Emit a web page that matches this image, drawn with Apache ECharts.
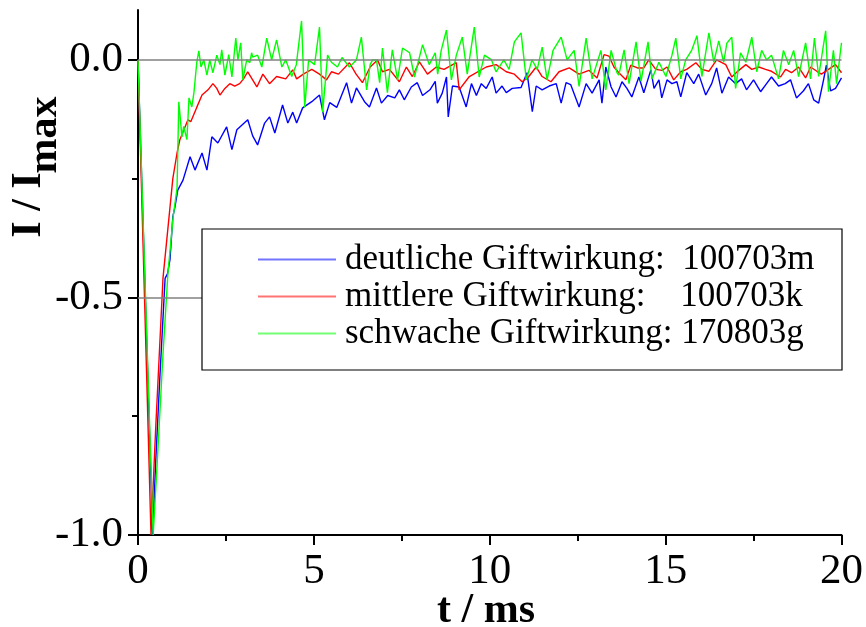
<!DOCTYPE html>
<html>
<head>
<meta charset="utf-8">
<script src="https://cdn.jsdelivr.net/npm/echarts@6/dist/echarts.min.js"></script>
<style>
  html, body { margin: 0; padding: 0; background: #fff; }
  #main { width: 866px; height: 627px; }
</style>
</head>
<body>
<div id="main"></div>
<script>
// t / ms, I / Imax
var blueData = [[0,0],[0.42,-1.0],[0.5,-0.85],[0.62,-0.67],[0.77,-0.46],[0.84,-0.45],[0.91,-0.42],[0.99,-0.33],[1.05,-0.31],[1.13,-0.274],[1.28,-0.253],[1.48,-0.204],[1.62,-0.232],[1.82,-0.196],[1.96,-0.232],[2.10,-0.162],[2.27,-0.175],[2.52,-0.141],[2.67,-0.189],[2.81,-0.147],[3.12,-0.126],[3.26,-0.16],[3.40,-0.179],[3.60,-0.133],[3.74,-0.120],[3.89,-0.154],[4.11,-0.095],[4.26,-0.133],[4.40,-0.11],[4.51,-0.133],[4.68,-0.101],[4.94,-0.088],[5.16,-0.074],[5.30,-0.126],[5.45,-0.09],[5.65,-0.10],[5.93,-0.048],[6.07,-0.091],[6.21,-0.059],[6.44,-0.088],[6.58,-0.099],[6.78,-0.059],[6.92,-0.091],[7.1,-0.075],[7.3,-0.08],[7.43,-0.063],[7.57,-0.084],[7.77,-0.057],[7.94,-0.048],[8.09,-0.075],[8.3,-0.063],[8.45,-0.045],[8.51,-0.091],[8.65,-0.07],[8.77,-0.036],[8.82,-0.12],[8.94,-0.055],[9.13,-0.057],[9.33,-0.099],[9.48,-0.05],[9.62,-0.075],[9.76,-0.05],[9.90,-0.06],[10.07,-0.036],[10.18,-0.07],[10.35,-0.055],[10.47,-0.069],[10.64,-0.06],[10.89,-0.058],[11.06,-0.027],[11.21,-0.109],[11.32,-0.055],[11.49,-0.063],[11.69,-0.055],[11.89,-0.05],[12.03,-0.091],[12.17,-0.048],[12.30,-0.052],[12.54,-0.099],[12.74,-0.05],[12.91,-0.07],[13.11,-0.042],[13.19,-0.091],[13.30,-0.015],[13.45,-0.057],[13.59,-0.078],[13.76,-0.046],[13.9,-0.06],[14.04,-0.078],[14.24,-0.036],[14.38,-0.069],[14.58,-0.021],[14.67,-0.06],[14.81,-0.042],[14.89,-0.080],[15.04,-0.042],[15.18,-0.05],[15.32,-0.046],[15.43,-0.078],[15.60,-0.027],[15.80,-0.05],[15.94,-0.03],[16.14,-0.074],[16.31,-0.05],[16.45,-0.017],[16.60,-0.07],[16.79,-0.036],[16.99,-0.05],[17.16,-0.04],[17.30,-0.063],[17.50,-0.042],[17.70,-0.067],[17.87,-0.05],[18.01,-0.036],[18.21,-0.055],[18.40,-0.05],[18.55,-0.042],[18.72,-0.080],[18.92,-0.065],[19.06,-0.05],[19.21,-0.084],[19.35,-0.091],[19.49,-0.042],[19.57,-0.011],[19.69,-0.065],[19.83,-0.06],[20.0,-0.038]];

var redData = [[0,0],[0.37,-1.0],[0.5,-0.78],[0.71,-0.46],[0.99,-0.25],[1.11,-0.196],[1.19,-0.168],[1.42,-0.126],[1.5,-0.13],[1.67,-0.10],[1.82,-0.074],[1.99,-0.063],[2.13,-0.05],[2.24,-0.06],[2.33,-0.074],[2.47,-0.06],[2.61,-0.05],[2.75,-0.055],[2.89,-0.05],[3.0,-0.04],[3.12,-0.025],[3.38,-0.057],[3.55,-0.03],[3.74,-0.05],[3.94,-0.035],[4.2,-0.04],[4.40,-0.021],[4.51,-0.04],[4.7,-0.03],[4.94,-0.02],[5.16,-0.03],[5.36,-0.042],[5.5,-0.025],[5.7,-0.03],[6.01,-0.006],[6.2,-0.03],[6.38,-0.048],[6.6,-0.015],[6.81,0.0],[6.95,-0.025],[7.15,-0.02],[7.43,-0.046],[7.63,-0.015],[7.80,-0.035],[8.0,-0.004],[8.23,-0.03],[8.48,-0.015],[8.7,-0.02],[9.05,-0.006],[9.13,-0.063],[9.42,-0.035],[9.9,-0.015],[10.18,-0.01],[10.47,-0.025],[10.7,-0.03],[10.92,-0.046],[11.1,-0.036],[11.32,-0.015],[11.49,-0.035],[11.74,-0.046],[11.97,-0.025],[12.26,-0.017],[12.54,-0.03],[12.82,-0.022],[13.05,-0.038],[13.25,0.011],[13.39,0.008],[13.53,-0.015],[13.67,-0.027],[13.87,-0.042],[14.01,-0.011],[14.2,-0.017],[14.38,-0.017],[14.52,0.0],[14.72,-0.02],[14.9,-0.022],[15.04,-0.015],[15.23,-0.042],[15.43,-0.025],[15.60,-0.02],[15.86,-0.006],[16.03,-0.02],[16.23,-0.024],[16.45,0.0],[16.71,-0.01],[16.88,-0.036],[17.08,-0.022],[17.28,-0.01],[17.45,-0.02],[17.65,-0.015],[17.84,-0.02],[18.01,-0.024],[18.27,-0.036],[18.41,-0.02],[18.58,-0.027],[18.78,-0.015],[18.98,-0.038],[19.12,-0.015],[19.3,-0.024],[19.43,-0.03],[19.63,-0.02],[19.83,-0.01],[20.0,-0.027]];

var greenData = [[0,0],[0.43,-1.0],[0.54,-0.857],[0.57,-0.86],[0.71,-0.62],[0.85,-0.45],[1.0,-0.33],[1.11,-0.27],[1.16,-0.088],[1.25,-0.162],[1.3,-0.14],[1.39,-0.168],[1.45,-0.08],[1.53,-0.099],[1.59,-0.069],[1.67,-0.006],[1.73,0.019],[1.79,-0.015],[1.87,0.0],[1.96,-0.032],[2.04,0.0],[2.13,-0.027],[2.24,0.01],[2.33,-0.01],[2.38,0.021],[2.47,-0.032],[2.58,0.011],[2.67,-0.036],[2.78,0.046],[2.84,0.0],[2.92,0.036],[2.98,-0.042],[3.09,0.0],[3.18,-0.006],[3.23,0.015],[3.26,0.006],[3.40,0.01],[3.52,-0.015],[3.66,0.046],[3.80,0.0],[3.94,0.042],[4.09,-0.015],[4.2,0.0],[4.37,-0.035],[4.5,-0.01],[4.65,0.082],[4.74,-0.1],[4.85,0.0],[5.02,-0.01],[5.16,0.069],[5.25,-0.11],[5.39,0.01],[5.5,-0.005],[5.67,-0.015],[5.8,0.005],[6.01,-0.015],[6.21,0.0],[6.35,0.048],[6.50,-0.063],[6.6,-0.01],[6.67,0.0],[6.78,0.0],[6.87,-0.048],[6.95,0.025],[7.09,-0.069],[7.23,0.021],[7.38,-0.042],[7.52,0.025],[7.72,0.015],[7.86,-0.036],[8.09,0.032],[8.28,-0.01],[8.45,0.015],[8.52,-0.03],[8.62,0.02],[8.77,0.063],[8.91,-0.042],[9.05,0.01],[9.22,0.048],[9.36,-0.03],[9.56,0.069],[9.70,-0.036],[9.85,0.01],[10.05,0.0],[10.18,-0.025],[10.4,0.0],[10.55,-0.02],[10.70,0.038],[10.89,0.057],[11.04,-0.042],[11.2,0.0],[11.35,-0.02],[11.49,0.027],[11.63,-0.042],[11.8,0.02],[12.03,0.048],[12.2,0.0],[12.40,0.02],[12.54,-0.056],[12.74,0.046],[12.91,-0.04],[13.16,0.02],[13.30,-0.063],[13.45,0.02],[13.62,-0.027],[13.67,-0.032],[13.82,0.021],[13.96,-0.05],[14.16,0.038],[14.30,-0.045],[14.50,0.038],[14.61,-0.04],[14.81,-0.005],[15.01,-0.035],[15.18,0.01],[15.29,0.046],[15.43,-0.04],[15.57,0.0],[15.74,0.02],[15.89,0.051],[16.03,-0.035],[16.23,0.057],[16.37,-0.005],[16.51,0.04],[16.65,-0.005],[16.74,0.035],[16.88,0.048],[16.99,-0.06],[17.13,0.015],[17.28,-0.005],[17.45,0.048],[17.59,-0.025],[17.73,0.02],[17.87,0.0],[18.01,0.01],[18.21,-0.04],[18.35,0.02],[18.50,-0.01],[18.64,0.02],[18.78,-0.035],[18.98,0.036],[19.12,-0.04],[19.23,0.046],[19.35,-0.035],[19.55,0.061],[19.63,-0.067],[19.77,0.02],[19.86,-0.05],[20.0,0.036]];

var seriesNames = ['deutliche Giftwirkung:  100703m', 'mittlere Giftwirkung:    100703k', 'schwache Giftwirkung: 170803g'];
var seriesColors = ['#0000ff', '#ff0000', '#00ff00'];
var yLabelTicks = [-1.0, -0.5, 0.0];
var yMinorTicks = [-0.75, -0.25];
var gridLines = [0.0, -0.5];

var serif = 'Liberation Serif';
var chart = echarts.init(document.getElementById('main'));

function curve(i, data) {
  return {
    name: seriesNames[i], type: 'line', data: data,
    symbol: 'none', smooth: false,
    lineStyle: { color: seriesColors[i], width: 1.4 },
    itemStyle: { color: seriesColors[i] }
  };
}

chart.setOption({
  animation: false,
  backgroundColor: '#fff',
  grid: { left: 138, right: 23, top: 10, bottom: 92 },
  xAxis: {
    type: 'value', min: 0, max: 20, interval: 5,
    axisLine: { onZero: false, lineStyle: { color: '#000', width: 2 } },
    axisTick: { length: 10, lineStyle: { color: '#000', width: 2 } },
    minorTick: { show: true, splitNumber: 2, length: 6, lineStyle: { color: '#000', width: 2 } },
    axisLabel: { fontFamily: serif, fontSize: 43, color: '#000', margin: 15 },
    splitLine: { show: false }
  },
  yAxis: [{
    type: 'value', min: -1, max: 0.105,
    axisLine: { show: true, onZero: false, lineStyle: { color: '#000', width: 2 } },
    axisTick: { length: 10, customValues: yLabelTicks, lineStyle: { color: '#000', width: 2 } },
    axisLabel: { customValues: yLabelTicks, fontFamily: serif, fontSize: 43, color: '#000', margin: 15,
      formatter: function (v) { return v.toFixed(1); } },
    splitLine: { show: false }
  }, {
    type: 'value', min: -1, max: 0.105, position: 'left',
    axisLine: { show: false, onZero: false },
    axisTick: { length: 6, customValues: yMinorTicks, lineStyle: { color: '#000', width: 2 } },
    axisLabel: { show: false },
    splitLine: { show: false }
  }],
  legend: {
    orient: 'vertical', left: 258, top: 241, z: 110, padding: 0,
    data: seriesNames,
    icon: 'rect', itemWidth: 78, itemHeight: 2, itemGap: 0,
    itemStyle: { opacity: 0.55 },
    textStyle: { fontFamily: serif, fontSize: 35, color: '#000', lineHeight: 37, padding: [0, 0, 0, 4] },
    selectedMode: false
  },
  graphic: [
    { type: 'rect', z: 100, shape: { x: 202, y: 229, width: 640, height: 141 },
      style: { fill: '#fff', stroke: '#000', lineWidth: 1.2 } },
    { type: 'text', x: 486, y: 611, style: { text: 't / ms', font: 'bold 42px ' + serif, fill: '#000',
      align: 'center', verticalAlign: 'middle' } },
    { type: 'text', x: 29, y: 205, rotation: Math.PI / 2,
      style: { text: 'I / I', font: 'bold 42px ' + serif, fill: '#000', align: 'center', verticalAlign: 'middle' } },
    { type: 'text', x: 45, y: 135, rotation: Math.PI / 2,
      style: { text: 'max', font: 'bold 42px ' + serif, fill: '#000', align: 'center', verticalAlign: 'middle' } }
  ],
  series: [
    { type: 'line', data: [], silent: true,
      markLine: { silent: true, symbol: 'none', label: { show: false },
        lineStyle: { color: '#808080', width: 1.5, type: 'solid' },
        data: gridLines.map(function (v) { return { yAxis: v }; }) } },
    curve(0, blueData), curve(1, redData), curve(2, greenData)
  ]
});
</script>
</body>
</html>
